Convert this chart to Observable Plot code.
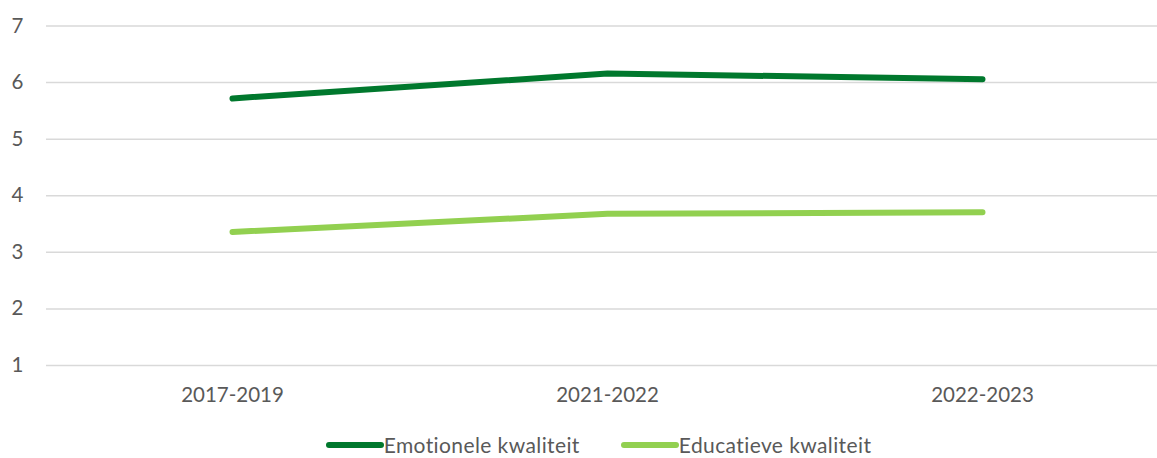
<!DOCTYPE html>
<html><head><meta charset="utf-8">
<script src="https://cdn.jsdelivr.net/npm/d3@7"></script>
<script src="https://cdn.jsdelivr.net/npm/@observablehq/plot@0.6"></script>
<style>
body{margin:0;background:#fff;font-family:Lato,"Noto Sans",sans-serif;overflow:hidden}
#legend{display:flex;justify-content:center;align-items:center;height:20px;line-height:20px;margin-top:15px;font-size:21px;letter-spacing:0.4px;color:#595959;gap:41px;margin-left:40px}
.item{display:flex;align-items:center}
.item svg{display:block}
</style></head><body>
<div id="chart"></div>
<div id="legend"></div>
<script>
const periods = ["2017-2019", "2021-2022", "2022-2023"];
const seriesNames = ["Emotionele kwaliteit", "Educatieve kwaliteit"];
const emotionele = [5.72, 6.16, 6.06];
const educatieve = [3.36, 3.68, 3.71];
const colors = ["#00782d", "#92d050"];
const yTicks = [1, 2, 3, 4, 5, 6, 7];

const data = [];
periods.forEach((p, i) => {
  data.push({period: p, value: emotionele[i], series: seriesNames[0]});
  data.push({period: p, value: educatieve[i], series: seriesNames[1]});
});

const chart = Plot.plot({
  width: 1157,
  height: 420,
  marginLeft: 46,
  marginRight: 0,
  marginTop: 25.5,
  marginBottom: 55,
  style: {fontFamily: "Lato, 'Noto Sans', sans-serif", fontSize: "20.5px", color: "#595959", background: "#fff", display: "block"},
  x: {type: "point", domain: periods, range: [232, 982], padding: 0, label: null},
  y: {domain: [1, 7], label: null},
  color: {domain: seriesNames, range: colors},
  marks: [
    Plot.ruleY(yTicks, {stroke: "#d9d9d9", strokeWidth: 1.5}),
    Plot.axisY({ticks: yTicks, tickFormat: "d", tickSize: 0, tickPadding: 23, label: null, fill: "#595959"}),
    Plot.axisX({tickSize: 0, tickPadding: 22, label: null, fill: "#595959"}),
    Plot.line(data, {x: "period", y: "value", z: "series", stroke: "series", strokeWidth: 6, strokeLinecap: "round", strokeLinejoin: "round"})
  ]
});
document.getElementById("chart").appendChild(chart);

const legend = document.getElementById("legend");
seriesNames.forEach((n, i) => {
  const item = document.createElement("div");
  item.className = "item";
  item.innerHTML = `<svg width="58" height="10"><line x1="3" y1="5" x2="55" y2="5" stroke="${colors[i]}" stroke-width="6" stroke-linecap="round"/></svg><span>${n}</span>`;
  legend.appendChild(item);
});
</script>
</body></html>
